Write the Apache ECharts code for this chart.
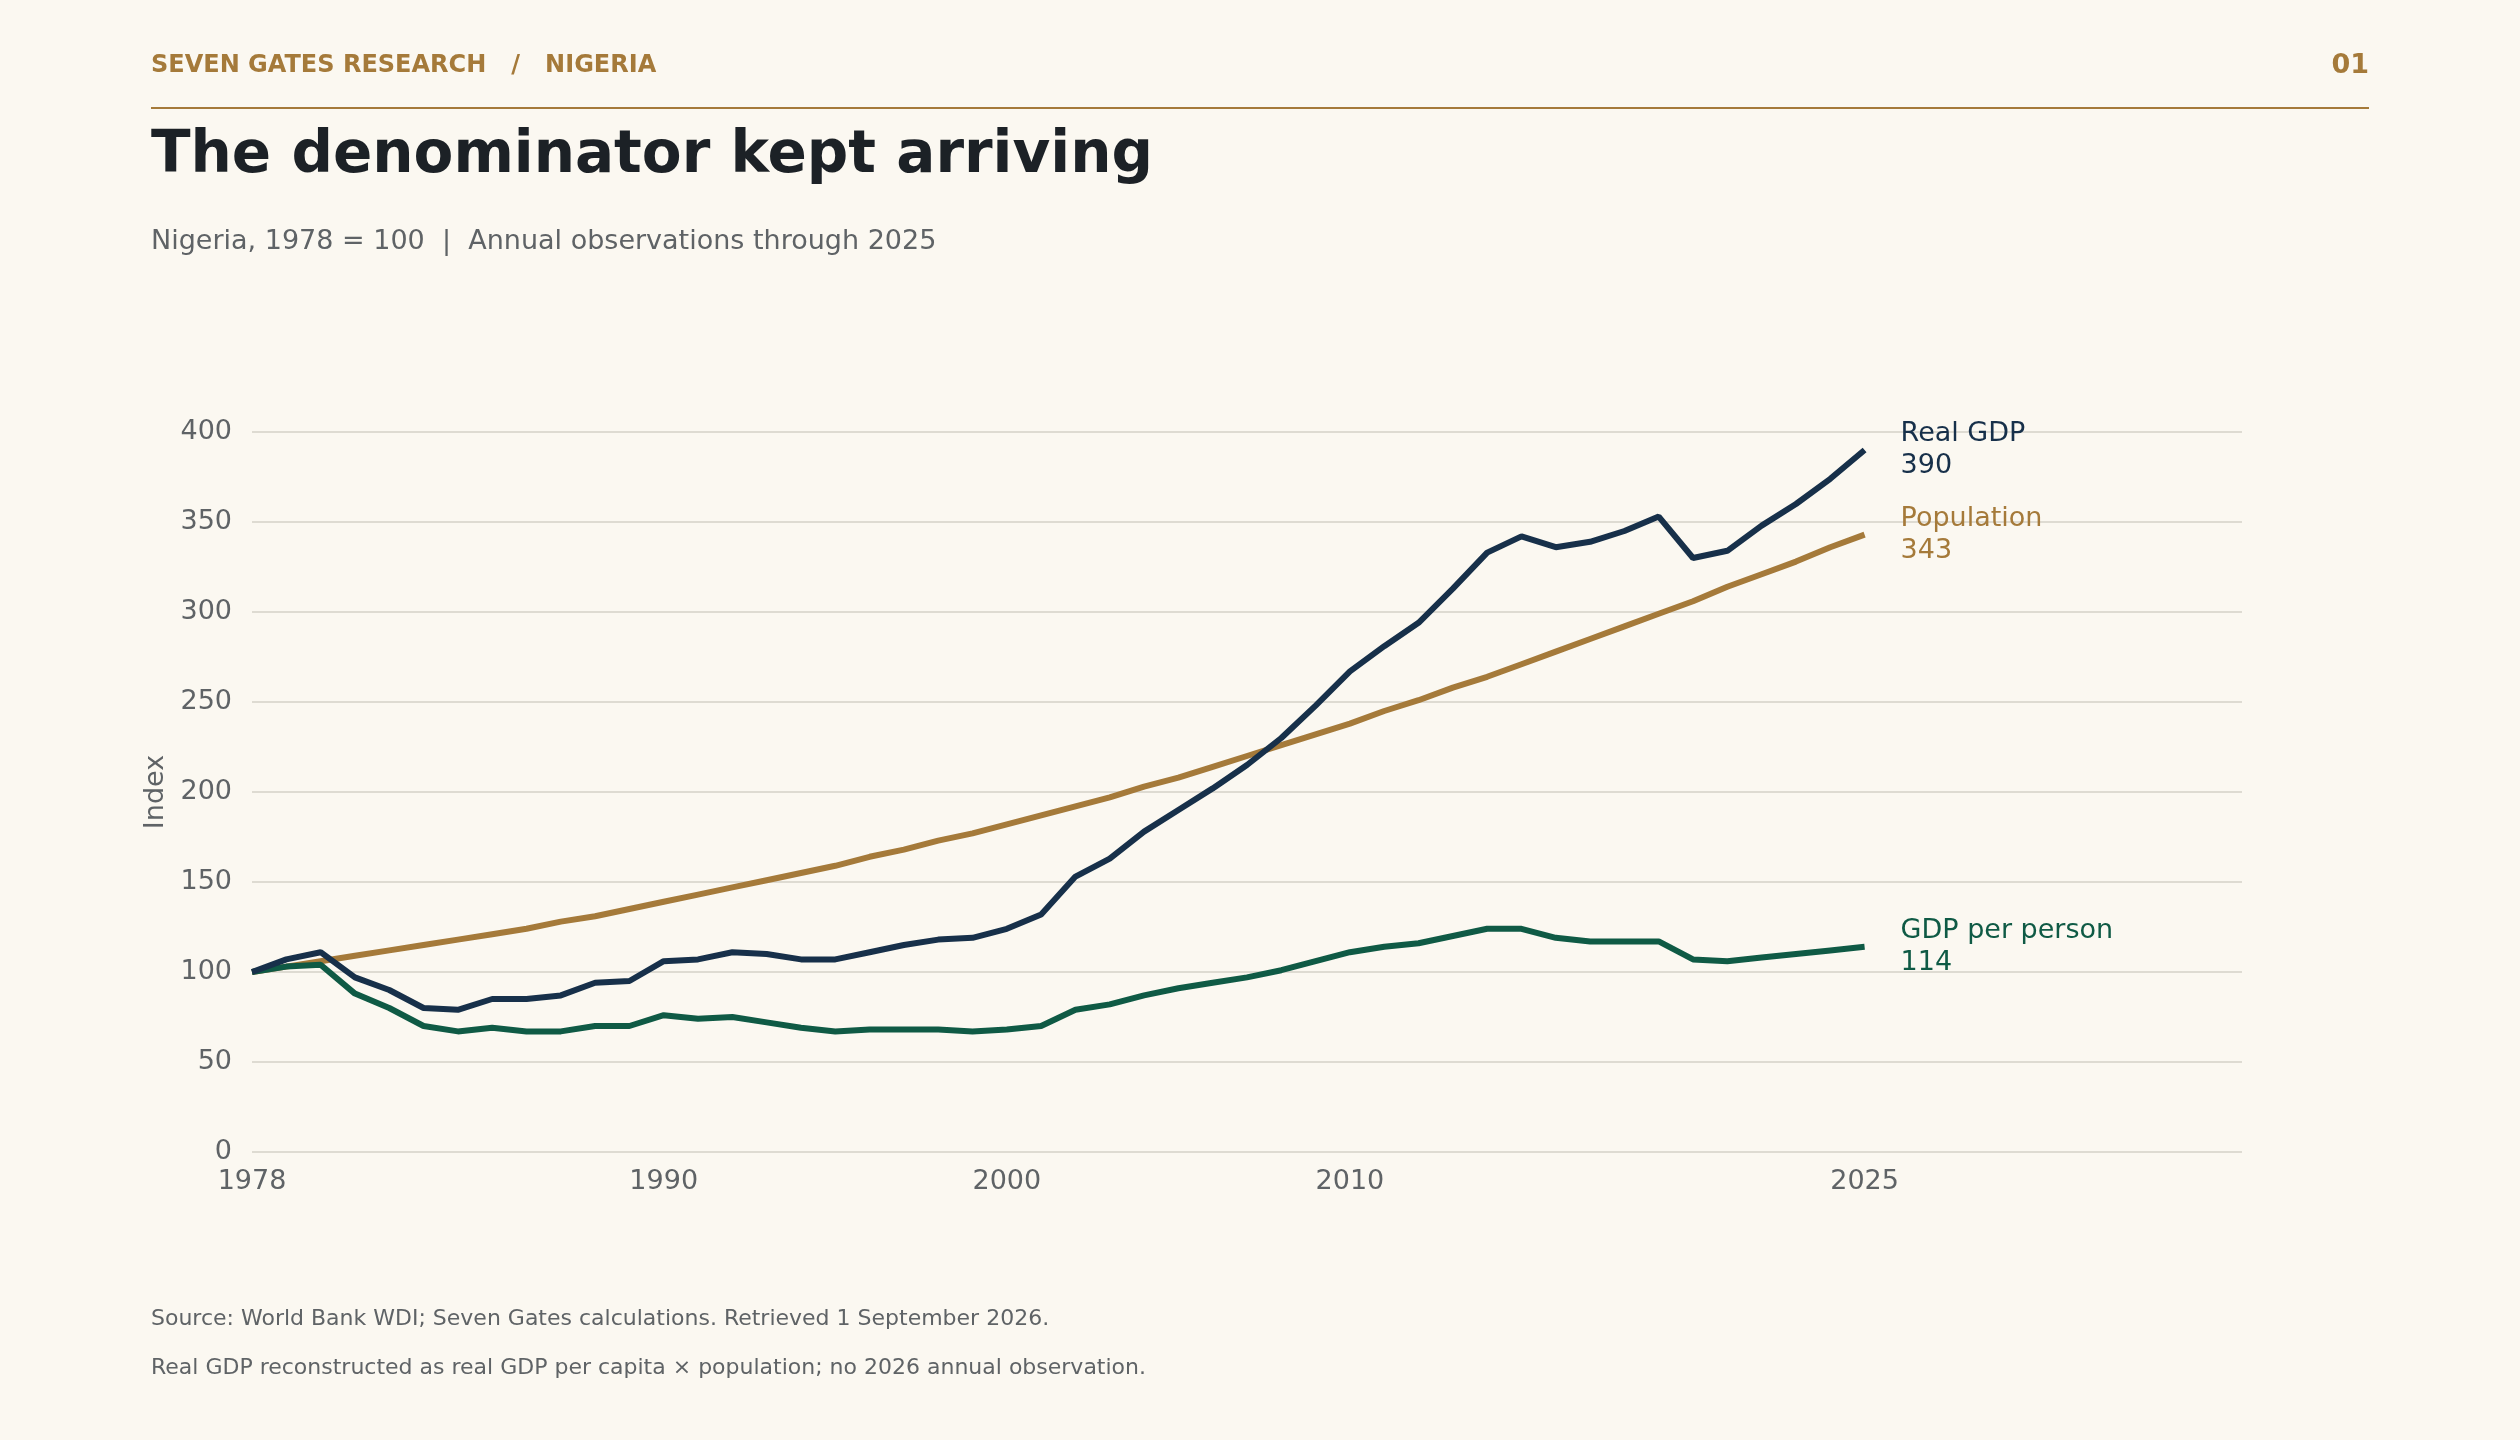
<!DOCTYPE html>
<html>
<head>
<meta charset="utf-8">
<script src="https://cdn.jsdelivr.net/npm/echarts@6/dist/echarts.min.js"></script>
<style>
html,body{margin:0;padding:0;background:#fbf8f1;}
#chart{width:2520px;height:1440px;}
</style>
</head>
<body>
<div id="chart"></div>
<script>
var years = [];
for (var y = 1978; y <= 2025; y++) years.push(y);

var realGdp = [100,107,111,97,90,80,79,85,85,87,94,95,106,107,111,110,107,107,111,115,118,119,124,132,153,163,178,190,202,215,230,248,267,281,294,313,333,342,336,339,345,353,330,334,348,360,374,390];
var population = [100,103,106,109,112,115,118,121,124,128,131,135,139,143,147,151,155,159,164,168,173,177,182,187,192,197,203,208,214,220,226,232,238,245,251,258,264,271,278,285,292,299,306,314,321,328,336,343];
var gdpPerPerson = [100,103,104,88,80,70,67,69,67,67,70,70,76,74,75,72,69,67,68,68,68,67,68,70,79,82,87,91,94,97,101,106,111,114,116,120,124,124,119,117,117,117,107,106,108,110,112,114];
var xTicks = [1978, 1990, 2000, 2010, 2025];

function pairs(vals) {
	return vals.map(function (v, i) { return [years[i], v]; });
}

var chart = echarts.init(document.getElementById('chart'));
var font = '"DejaVu Sans", sans-serif';

function seriesOf(name, vals, color, label) {
	return {
		name: name,
		type: 'line',
		showSymbol: false,
		data: pairs(vals),
		lineStyle: { width: 6, color: color },
		itemStyle: { color: color },
		endLabel: {
			show: true,
			offset: [28, 0],
			color: color,
			fontFamily: font,
			fontSize: 27,
			lineHeight: 32,
			formatter: function (p) { return label + '\n' + p.value[1]; }
		}
	};
}

var option = {
	backgroundColor: '#fbf8f1',
	animation: false,
	grid: { left: 252, right: 278, top: 432, bottom: 288 },
	xAxis: {
		type: 'value',
		min: 1978,
		max: 2036,
		interval: 1,
		axisLine: { show: false },
		axisTick: { show: false },
		splitLine: { show: false },
		axisLabel: {
			color: '#5f6366', fontSize: 27, fontFamily: font, margin: 16,
			formatter: function (v) { return xTicks.indexOf(v) >= 0 ? String(v) : ''; }
		}
	},
	yAxis: {
		type: 'value',
		min: 0,
		max: 400,
		interval: 50,
		name: 'Index',
		nameLocation: 'middle',
		nameGap: 80,
		nameTextStyle: { color: '#5f6366', fontSize: 27, fontFamily: font },
		axisLine: { show: false },
		axisTick: { show: false },
		splitLine: { lineStyle: { color: '#dedbd2', width: 2 } },
		axisLabel: { color: '#5f6366', fontSize: 27, fontFamily: font, margin: 20 }
	},
	series: [
		seriesOf('Population', population, '#a57a3a', 'Population'),
		seriesOf('GDP per person', gdpPerPerson, '#0f5a45', 'GDP per person'),
		seriesOf('Real GDP', realGdp, '#17304a', 'Real GDP')
	],
	graphic: [
		{ type: 'text', left: 151, top: 54, style: { text: 'SEVEN GATES RESEARCH   /   NIGERIA', fill: '#a57a3a', font: 'bold 24px ' + font } },
		{ type: 'text', right: 151, top: 52, style: { text: '01', fill: '#a57a3a', font: 'bold 27px ' + font } },
		{ type: 'line', shape: { x1: 151, y1: 108, x2: 2369, y2: 108 }, style: { stroke: '#a57a3a', lineWidth: 2 } },
		{ type: 'text', left: 151, top: 128, style: { text: 'The denominator kept arriving', fill: '#1c2126', font: 'bold 58px ' + font } },
		{ type: 'text', left: 151, top: 228, style: { text: 'Nigeria, 1978 = 100  |  Annual observations through 2025', fill: '#5f6366', font: '27px ' + font } },
		{ type: 'text', left: 151, top: 1308, style: { text: 'Source: World Bank WDI; Seven Gates calculations. Retrieved 1 September 2026.', fill: '#5f6366', font: '22px ' + font } },
		{ type: 'text', left: 151, top: 1357, style: { text: 'Real GDP reconstructed as real GDP per capita \u00d7 population; no 2026 annual observation.', fill: '#5f6366', font: '22px ' + font } }
	]
};

chart.setOption(option);
</script>
</body>
</html>
